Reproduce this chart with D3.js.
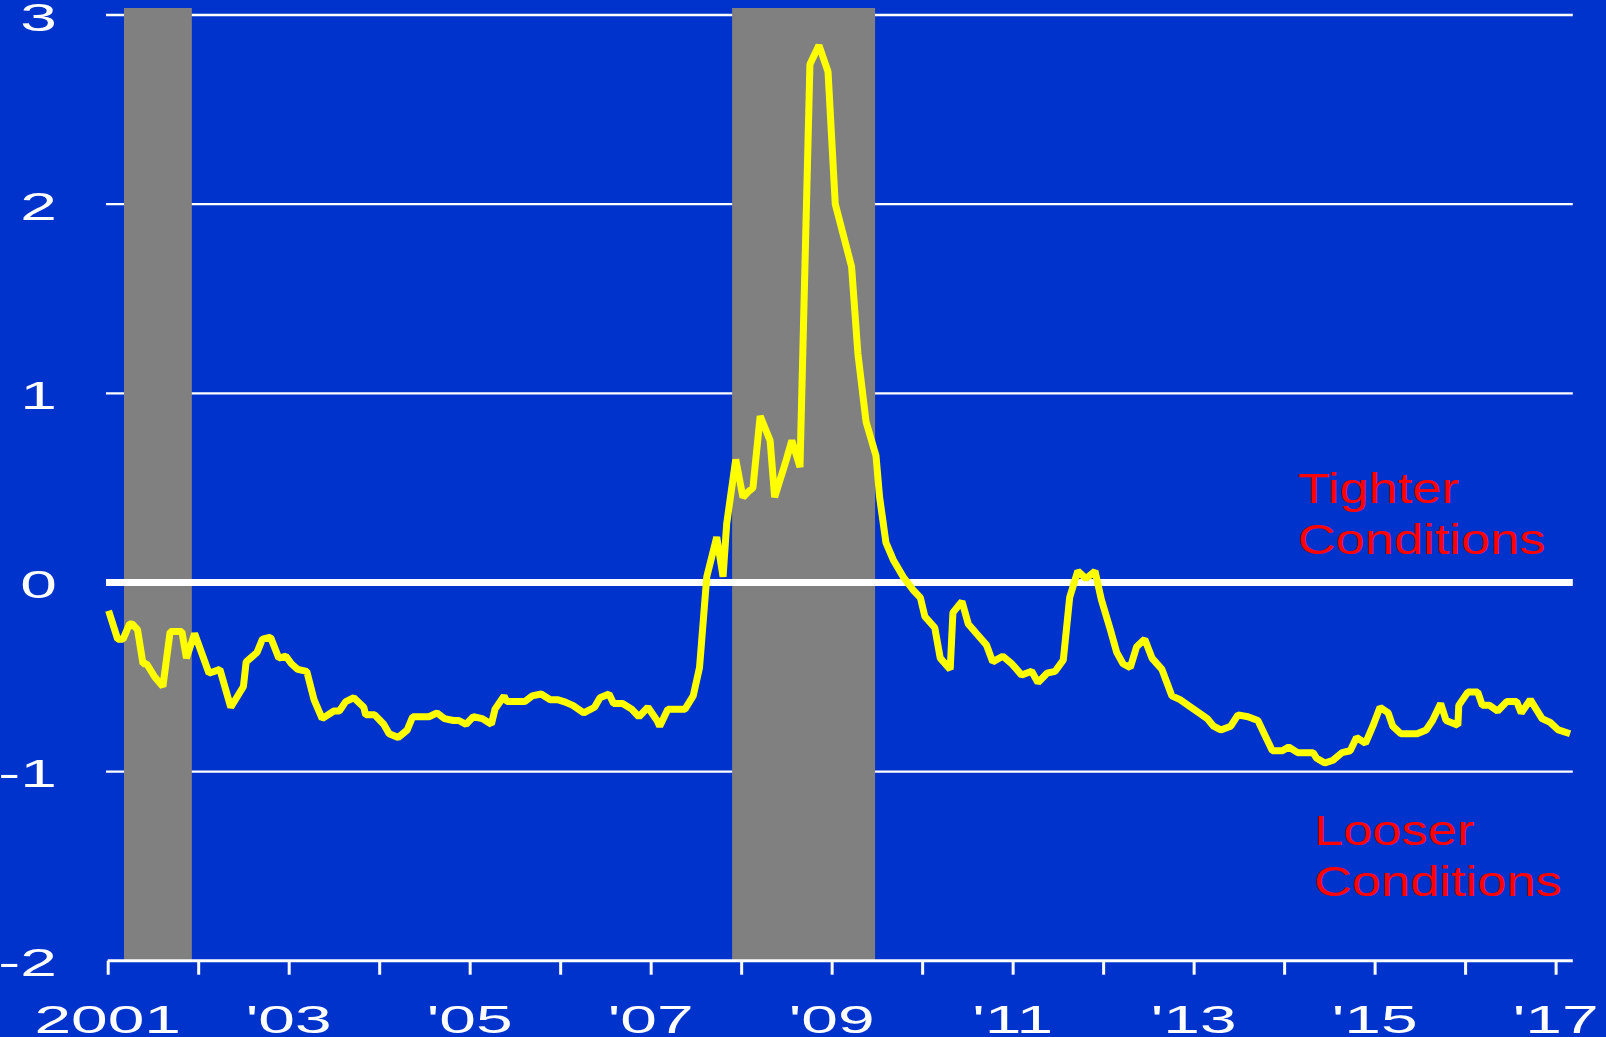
<!DOCTYPE html>
<html>
<head>
<meta charset="utf-8">
<script src="https://cdn.jsdelivr.net/npm/d3@7"></script>
<style>
  html, body { margin: 0; padding: 0; background: #0033cc; }
  svg { display: block; }
  text { font-family: "Liberation Sans", Arial, sans-serif; }
</style>
</head>
<body>
<svg id="chart" width="1606" height="1037"></svg>
<script>
// ---- Data ----
const dates = [
  2001.01, 2001.11, 2001.17, 2001.24, 2001.27, 2001.33, 2001.39, 2001.43, 2001.52, 2001.61,
  2001.69, 2001.82, 2001.87, 2001.96, 2002.12, 2002.24, 2002.36, 2002.50, 2002.53, 2002.65,
  2002.71, 2002.80, 2002.89, 2002.97, 2003.03, 2003.10, 2003.20, 2003.28, 2003.37, 2003.50,
  2003.56, 2003.63, 2003.72, 2003.83, 2003.85, 2003.95, 2004.05, 2004.11, 2004.21, 2004.31,
  2004.37, 2004.55, 2004.64, 2004.72, 2004.82, 2004.88, 2004.96, 2005.04, 2005.14, 2005.24,
  2005.28, 2005.38, 2005.41, 2005.61, 2005.69, 2005.79, 2005.89, 2005.97, 2006.04, 2006.14,
  2006.26, 2006.38, 2006.44, 2006.54, 2006.59, 2006.69, 2006.79, 2006.87, 2006.97, 2007.07,
  2007.10, 2007.19, 2007.38, 2007.47, 2007.54, 2007.62, 2007.73, 2007.80, 2007.84, 2007.94,
  2008.02, 2008.08, 2008.13, 2008.21, 2008.32, 2008.37, 2008.50, 2008.56, 2008.65, 2008.76,
  2008.86, 2008.96, 2009.04, 2009.22, 2009.29, 2009.38, 2009.49, 2009.53, 2009.60, 2009.68,
  2009.79, 2009.90, 2009.98, 2010.03, 2010.14, 2010.20, 2010.31, 2010.34, 2010.44, 2010.51,
  2010.60, 2010.71, 2010.78, 2010.89, 2010.99, 2011.10, 2011.21, 2011.28, 2011.38, 2011.47,
  2011.56, 2011.63, 2011.72, 2011.81, 2011.91, 2011.98, 2012.08, 2012.15, 2012.22, 2012.30,
  2012.37, 2012.46, 2012.54, 2012.65, 2012.76, 2012.85, 2012.94, 2013.06, 2013.15, 2013.22,
  2013.30, 2013.41, 2013.49, 2013.60, 2013.71, 2013.87, 2013.98, 2014.05, 2014.15, 2014.32,
  2014.36, 2014.45, 2014.54, 2014.64, 2014.73, 2014.80, 2014.90, 2014.98, 2015.06, 2015.15,
  2015.20, 2015.29, 2015.47, 2015.57, 2015.64, 2015.73, 2015.79, 2015.92, 2015.93, 2016.03,
  2016.14, 2016.19, 2016.27, 2016.36, 2016.46, 2016.57, 2016.62, 2016.72, 2016.85, 2016.94,
  2017.03, 2017.16
];
const values = [
  -0.15, -0.30, -0.30, -0.22, -0.22, -0.25, -0.43, -0.43, -0.50, -0.55,
  -0.26, -0.26, -0.40, -0.27, -0.48, -0.46, -0.66, -0.55, -0.42, -0.37,
  -0.30, -0.29, -0.40, -0.39, -0.43, -0.46, -0.47, -0.62, -0.72, -0.68,
  -0.68, -0.63, -0.61, -0.66, -0.70, -0.70, -0.75, -0.80, -0.82, -0.78,
  -0.71, -0.71, -0.69, -0.72, -0.73, -0.73, -0.75, -0.71, -0.72, -0.75,
  -0.67, -0.60, -0.63, -0.63, -0.60, -0.59, -0.62, -0.62, -0.63, -0.65,
  -0.69, -0.66, -0.61, -0.59, -0.64, -0.64, -0.67, -0.71, -0.66, -0.73,
  -0.76, -0.67, -0.67, -0.60, -0.45, 0.03, 0.24, 0.03, 0.31, 0.65,
  0.45, 0.48, 0.50, 0.88, 0.75, 0.45, 0.65, 0.75, 0.61, 2.74,
  2.84, 2.70, 2.00, 1.67, 1.21, 0.85, 0.67, 0.45, 0.21, 0.12,
  0.03, -0.04, -0.08, -0.18, -0.24, -0.40, -0.46, -0.16, -0.10, -0.22,
  -0.27, -0.33, -0.42, -0.39, -0.43, -0.49, -0.47, -0.53, -0.48, -0.47,
  -0.41, -0.08, 0.06, 0.02, 0.06, -0.09, -0.25, -0.37, -0.43, -0.45,
  -0.34, -0.30, -0.40, -0.46, -0.60, -0.62, -0.65, -0.69, -0.72, -0.76,
  -0.78, -0.76, -0.70, -0.71, -0.73, -0.89, -0.89, -0.87, -0.90, -0.90,
  -0.93, -0.955, -0.94, -0.90, -0.89, -0.82, -0.85, -0.76, -0.66, -0.69,
  -0.76, -0.80, -0.80, -0.78, -0.73, -0.64, -0.73, -0.755, -0.65, -0.58,
  -0.58, -0.65, -0.65, -0.68, -0.63, -0.63, -0.69, -0.62, -0.72, -0.74,
  -0.78, -0.80
];
const recessionStart = [2001.18, 2007.90];
const recessionEnd   = [2001.93, 2009.48];
const yTicks = [3, 2, 1, 0, -1, -2];
const xTickYears = d3.range(2001, 2018);
const xTickLabels = ["2001", "'03", "'05", "'07", "'09", "'11", "'13", "'15", "'17"];
const xLabelYears = [2001, 2003, 2005, 2007, 2009, 2011, 2013, 2015, 2017];
const annotations = [
  { lines: ["Tighter", "Conditions"], yearPos: 2014.15, val: 0.42 },
  { lines: ["Looser", "Conditions"], yearPos: 2014.33, val: -1.39 }
];

// ---- Layout ----
const svg = d3.select("#chart");
const W = 1606, H = 1037;
const x = d3.scaleLinear().domain([2001, 2017.19]).range([107.7, 1572.8]);
const y = d3.scaleLinear().domain([-2, 3]).range([960.7, 15]);
const gridX0 = 106, gridX1 = 1572.8;
const SX = 1.69; // horizontal stretch of the original text

svg.append("rect").attr("width", W).attr("height", H).attr("fill", "#0033cc");

// gridlines (except zero and axis)
svg.append("g").selectAll("line")
  .data(yTicks.filter(d => d !== 0 && d !== -2))
  .join("line")
  .attr("x1", gridX0).attr("x2", gridX1)
  .attr("y1", d => y(d)).attr("y2", d => y(d))
  .attr("stroke", "#ffffff").attr("stroke-width", 2.3);

// recession bars
svg.append("g").selectAll("rect")
  .data(recessionStart.map((s, i) => [s, recessionEnd[i]]))
  .join("rect")
  .attr("x", d => x(d[0]))
  .attr("width", d => x(d[1]) - x(d[0]))
  .attr("y", 8)
  .attr("height", y(-2) - 8)
  .attr("fill", "#808080");

// zero line
svg.append("line")
  .attr("x1", gridX0).attr("x2", gridX1)
  .attr("y1", y(0)).attr("y2", y(0))
  .attr("stroke", "#ffffff").attr("stroke-width", 7);

// x axis
const xAxis = d3.axisBottom(x)
  .tickValues(xTickYears)
  .tickSize(14)
  .tickFormat("");
const gx = svg.append("g").attr("transform", `translate(0,${y(-2)})`).call(xAxis);
gx.select(".domain").attr("stroke", "#ffffff").attr("stroke-width", 3)
  .attr("d", `M${x(2001)},0H${gridX1}`);
gx.selectAll(".tick line").attr("stroke", "#ffffff").attr("stroke-width", 3);

// x labels
svg.append("g").selectAll("text")
  .data(xLabelYears)
  .join("text")
  .attr("transform", d => `translate(${x(d)},1033) scale(${SX},1)`)
  .attr("text-anchor", "middle")
  .attr("fill", "#ffffff")
  .attr("font-size", 39)
  .text((d, i) => xTickLabels[i]);

// y labels
svg.append("g").selectAll("text")
  .data(yTicks)
  .join("text")
  .attr("transform", d => `translate(56.8,${y(d) + 15.5}) scale(${SX},1)`)
  .attr("text-anchor", "end")
  .attr("fill", "#ffffff")
  .attr("font-size", 39)
  .text(d => String(d));

// data line
const line = d3.line()
  .x((d, i) => x(dates[i]))
  .y(d => y(d));
svg.append("path")
  .datum(values)
  .attr("d", line)
  .attr("fill", "none")
  .attr("stroke", "#ffff00")
  .attr("stroke-width", 7)
  .attr("stroke-linejoin", "bevel");

// annotations
annotations.forEach(a => {
  const g = svg.append("g");
  a.lines.forEach((t, i) => {
    g.append("text")
      .attr("transform", `translate(${x(a.yearPos)},${y(a.val) + i * 51}) scale(1.22,1)`)
      .attr("fill", "#ff0000")
      .attr("font-size", 43)
      .text(t);
  });
});
</script>
</body>
</html>
